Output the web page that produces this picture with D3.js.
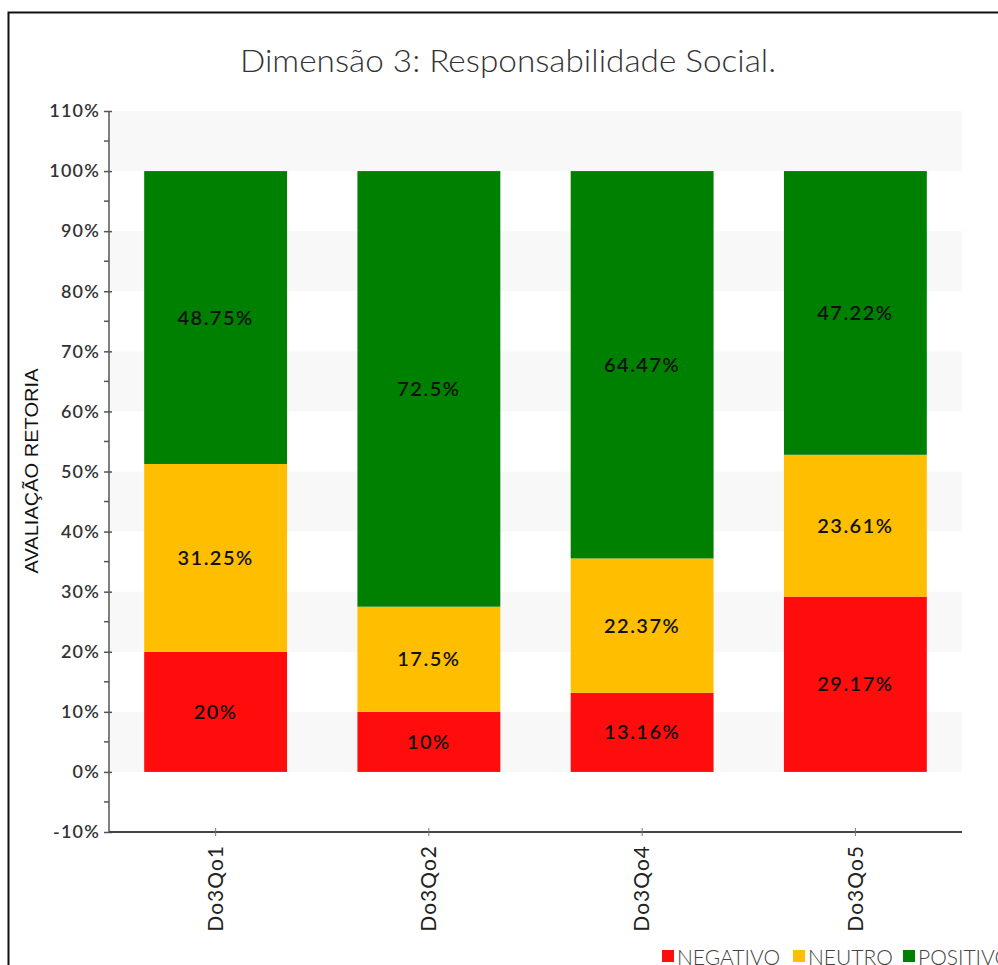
<!DOCTYPE html>
<html><head><meta charset="utf-8">
<script src="https://cdn.jsdelivr.net/npm/d3@7"></script>
<style>body{margin:0;background:#fff;overflow:hidden}svg{display:block}</style>
</head><body>
<script>
const categories = ["Do3Qo1","Do3Qo2","Do3Qo4","Do3Qo5"];
const seriesNames = ["NEGATIVO","NEUTRO","POSITIVO"];
const negativo = [20, 10, 13.16, 29.17];
const neutro = [31.25, 17.5, 22.37, 23.61];
const positivo = [48.75, 72.5, 64.47, 47.22];
const yTicks = [-10,0,10,20,30,40,50,60,70,80,90,100,110];
const colors = ["#ff0d0d","#ffbf00","#008000"];

const W=998,H=965;
const svg=d3.select("body").append("svg").attr("width",W).attr("height",H);
svg.append("rect").attr("x",8.5).attr("y",12.5).attr("width",1100).attr("height",1100)
  .attr("fill","none").attr("stroke","#111").attr("stroke-width",2);

const x=d3.scaleBand().domain(categories).range([109,962]).paddingInner(0.33).paddingOuter(0.165);
const y=d3.scaleLinear().domain([-10,110]).range([832,111]);

// bands
const g=svg.append("g");
for(let v=0; v<110; v+=20){
  g.append("rect").attr("x",110).attr("width",852).attr("y",y(v+10)).attr("height",y(v)-y(v+10)).attr("fill","#f8f8f8");
}

const rows=categories.map((c,i)=>({cat:c,NEGATIVO:negativo[i],NEUTRO:neutro[i],POSITIVO:positivo[i]}));
const stack=d3.stack().keys(seriesNames)(rows);
const font="Lato, 'Open Sans', sans-serif";
stack.forEach((s,si)=>{
  svg.append("g").selectAll("rect").data(s).join("rect")
    .attr("x",d=>x(d.data.cat)).attr("width",x.bandwidth())
    .attr("y",d=>y(d[1])).attr("height",d=>y(d[0])-y(d[1])).attr("fill",colors[si]);
  svg.append("g").selectAll("text").data(s).join("text")
    .attr("x",d=>x(d.data.cat)+x.bandwidth()/2).attr("y",d=>y((d[0]+d[1])/2))
    .attr("dy","0.35em").attr("text-anchor","middle")
    .style("font-family",font).style("font-size","20px").style("font-weight","600")
    .style("letter-spacing","1.5px").attr("fill","#111")
    .text(d=>d.data[seriesNames[si]]+"%");
});

// y axis
const yAxis=svg.append("g").attr("transform","translate(109,0)")
  .call(d3.axisLeft(y).tickValues(yTicks).tickSize(6).tickFormat(d=>d+"%"));
yAxis.selectAll(".tick line").attr("x2",-5).attr("x1",3);
const minor=d3.range(-5,110,10);
yAxis.selectAll(".minor").data(minor).join("line").attr("class","minor")
  .attr("x1",-5).attr("x2",0).attr("y1",d=>y(d)).attr("y2",d=>y(d));
yAxis.selectAll("text").attr("x",-9).style("font-family",font).style("font-size","18px").style("font-weight","600")
  .style("letter-spacing","1.2px").attr("fill","#333");
yAxis.select(".domain").attr("d","M0,111V832");
yAxis.selectAll("line,.domain").attr("stroke","#555").attr("stroke-width",1.5);

// x axis
const xAxis=svg.append("g").attr("transform","translate(0,832)")
  .call(d3.axisBottom(x).tickSize(0));
xAxis.select(".domain").attr("d","M109,0H962").attr("stroke","#444").attr("stroke-width",2);
xAxis.selectAll(".tick line").attr("y1",-4).attr("y2",4).attr("stroke","#777");
xAxis.selectAll("text").attr("transform","rotate(-90)").attr("text-anchor","end")
  .attr("x",-13).attr("y",0).attr("dy","0.35em")
  .style("font-family",font).style("font-size","21px").style("letter-spacing","1px").attr("fill","#222");

// y title
svg.append("text").attr("transform","translate(31,471) rotate(-90)").attr("text-anchor","middle")
  .attr("dy","0.35em").attr("textLength",205).attr("lengthAdjust","spacingAndGlyphs")
  .style("font-family","'Liberation Sans', Arial, sans-serif").style("font-size","19px").attr("fill","#111")
  .text("AVALIAÇÃO RETORIA");

// title
svg.append("text").attr("x",508).attr("y",72).attr("text-anchor","middle")
  .attr("textLength",536).attr("lengthAdjust","spacingAndGlyphs")
  .style("font-family","Lato, sans-serif").style("font-weight","300").style("font-size","32px").attr("fill","#333")
  .text("Dimensão 3: Responsabilidade Social.");

// legend
const lx=[662,793,903];
seriesNames.forEach((n,i)=>{
  svg.append("rect").attr("x",lx[i]).attr("y",950).attr("width",12).attr("height",12).attr("fill",colors[i]);
  svg.append("text").attr("x",lx[i]+15).attr("y",965).style("font-family","Lato, sans-serif").style("font-weight","300")
    .style("font-size","21px").attr("fill","#444").text(n);
});
</script>
</body></html>
